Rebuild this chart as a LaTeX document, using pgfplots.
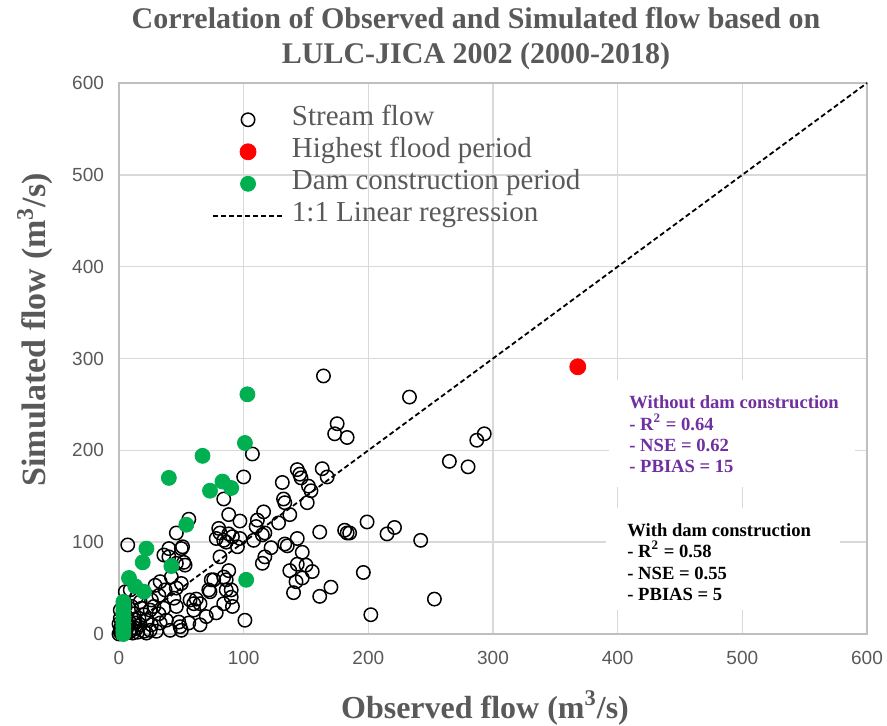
\documentclass[border=0pt]{standalone}
\usepackage{fontspec}
\setmainfont{Liberation Serif}
\setsansfont{Liberation Sans}
\usepackage{pgfplots}
\pgfplotsset{compat=1.18}
\definecolor{txtgray}{HTML}{595959}
\definecolor{damgreen}{HTML}{00B050}
\definecolor{nopurple}{HTML}{7030A0}

\begin{document}
\begin{tikzpicture}
\useasboundingbox (-59.5pt,-46pt) rectangle (384pt,317pt);
\begin{axis}[
    at={(0,0)}, anchor=south west,
    scale only axis, width=374pt, height=275.5pt,
    xmin=0, xmax=600, ymin=0, ymax=600,
    xtick={0,100,...,600}, ytick={0,100,...,600},
    grid=major, grid style={draw=black!15, line width=0.75pt},
    axis line style={draw=black!25, line width=0.75pt},
    major tick length=0pt,
    tick label style={font=\sffamily\fontsize{9.5}{11}\selectfont, text=txtgray},
    /pgf/number format/assume math mode=true,
    xticklabel style={yshift=-5pt},
    yticklabel style={xshift=-4pt},
    clip=false,
    legend cell align=left,
    legend image code/.code={\draw[mark repeat=2,mark phase=2,#1] plot coordinates {(0pt,0pt) (17.5pt,0pt) (35pt,0pt)};},
    legend style={draw=none, fill=none, at={(0.124,0.963)}, anchor=north west,
        font=\fontsize{14.5}{16}\selectfont, text=txtgray, row sep=0pt, inner sep=0pt,
        nodes={inner sep=1pt, text height=10pt, text depth=4pt},
        /tikz/every odd column/.append style={column sep=3pt}},
]
% stream flow
\addplot[only marks, mark=o, mark size=3.35pt, mark options={line width=0.75pt, draw=black}] table {
x y
164 281
233 258
175 229
173 218
183 214
287 211
293 218
265 188
280 182
107 196
100 171
84 147
143 179
145 174
146 170
163 180
167 171
152 161
154 156
151 143
131 165
132 147
133 143
137 130
88 130
97 123
116 133
111 124
110 117
117 110
115 108
128 121
97 104
91 106
88 109
80 115
81 110
78 104
84 102
86 100
95 95
108 102
122 94
133 98
135 96
143 104
147 89
117 84
115 77
81 84
161 111
181 113
183 110
185 110
199 122
215 109
221 116
242 102
143 76
137 69
140 45
147 61
155 68
142 57
150 75
161 41
170 51
196 67
202 21
253 38
101 15
78 23
65 10
49 8
88 69
86 59
90 40
86 48
91 30
74 59
72 48
62 38
60 33
51 95
52 78
40 93
40 84
46 110
56 125
7 97
36 86
50 93
46 77
53 75
42 62
33 57
29 53
37 48
26 37
32 42
46 50
50 55
44 39
36 28
32 22
46 30
57 37
60 26
65 33
73 46
76 59
84 62
90 48
84 33
70 19
56 12
48 13
38 15
33 12
25 26
20 21
17 10
25 4
20 3
14 6
9 3
17 35
9 48
5 46
1 26
6 19
12 22
13 12
22 15
26 10
18 28
28 30
22 1
30 3
41 4
50 4
0 0
1 2
2 1
3 4
1 6
5 1
2 9
6 5
7 9
3 13
8 2
10 6
11 1
12 16
1 17
4 20
0 11
8 14
15 2
16 17
5 30
10 30
14 40
};
\addlegendentry{Stream flow}
% highest flood
\addplot[only marks, mark=*, mark size=4pt, mark options={draw=red, fill=red}] table {
x y
368 291
};
\addlegendentry{Highest flood period}
% dam construction
\addplot[only marks, mark=*, mark size=3.75pt, mark options={draw=damgreen, fill=damgreen}] table {
x y
103 261
101 208
67 194
40 170
73 156
83 166
90 159
54 119
22 93
19 78
42 74
102 59
8 61
13 52
20 46
3.5 35
3.5 30
3.5 26
3.5 22
3.5 17
3.5 12
3.5 8
3.5 4
3.5 0
};
\addlegendentry{Dam construction period}
% 1:1 line
\addplot[black, line width=0.9pt, dash pattern=on 2.5pt off 1.5pt] table {
x y
0 0
600 600
};
\addlegendentry{1:1 Linear regression}
\end{axis}

\node[font=\bfseries\fontsize{15}{17.5}\selectfont, text=txtgray, align=center]
    at (178.5pt,297.5pt) {Correlation of Observed and Simulated flow based on\\LULC-JICA 2002 (2000-2018)};
\node[font=\bfseries\fontsize{16}{18}\selectfont, text=txtgray]
    at (183pt,-37pt) {Observed flow (m\textsuperscript{3}/s)};
\node[rotate=90, font=\bfseries\fontsize{17}{19}\selectfont, text=txtgray]
    at (-42pt,152pt) {Simulated flow (m\textsuperscript{3}/s)};

\fill[white] (245pt,73.5pt) rectangle (368pt,127pt);
\fill[white] (243.5pt,12pt) rectangle (360.5pt,63pt);
\begin{scope}[every node/.style={anchor=base west, inner sep=0pt, font=\bfseries\fontsize{9.3}{10.5}\selectfont}]
\node[text=nopurple] at (255pt,112.9pt) {Without dam construction};
\node[text=nopurple] at (255pt,101.9pt) {- R\textsuperscript{2} = 0.64};
\node[text=nopurple] at (255pt,91.4pt) {- NSE = 0.62};
\node[text=nopurple] at (255pt,80.9pt) {- PBIAS = 15};
\node[text=black] at (254pt,48.9pt) {With dam construction};
\node[text=black] at (254pt,38.4pt) {- R\textsuperscript{2} = 0.58};
\node[text=black] at (254pt,27.4pt) {- NSE = 0.55};
\node[text=black] at (254pt,16.9pt) {- PBIAS = 5};
\end{scope}
\end{tikzpicture}
\end{document}
